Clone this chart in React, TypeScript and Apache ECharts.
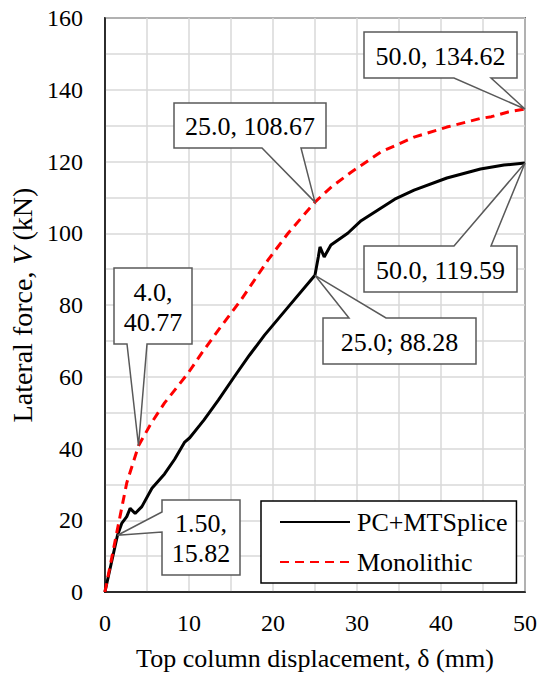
import React, { useEffect, useRef } from "react";
import * as echarts from "echarts";

// ---- data ----
const pcX = [0, 1.5, 2.0, 2.6, 3.0, 3.6, 4.4, 5.6, 7.1, 8.3, 9.5, 10.1, 11.3, 11.8, 13.5, 15.4, 17.2, 19.0, 21.8, 25.0, 25.4, 25.6, 26.1, 26.9, 28.9, 30.5, 32.5, 34.5, 36.8, 40.7, 44.7, 47.5, 50.0];
const pcY = [0, 15.82, 19.1, 21.0, 23.3, 21.9, 23.8, 28.9, 32.9, 37.0, 41.8, 43.0, 46.5, 48.0, 53.5, 60.0, 66.0, 71.6, 79.4, 88.28, 93.4, 96.2, 93.4, 96.7, 100.0, 103.5, 106.5, 109.5, 112.0, 115.4, 117.9, 119.0, 119.59];

const monoX = [0, 1.4, 2.6, 4.0, 5.5, 7.1, 9.9, 11.5, 13.5, 16.2, 19.4, 21.8, 25.0, 27.0, 29.3, 32.8, 36.8, 40.7, 44.7, 46.0, 48.0, 50.0];
const monoY = [0, 16.4, 30.4, 40.77, 47.0, 52.7, 61.0, 66.5, 73.0, 81.4, 92.5, 100.0, 108.67, 113.0, 117.0, 122.6, 126.8, 129.6, 132.0, 132.5, 133.8, 134.62];

const seriesNames = ["PC+MTSplice", "Monolithic"];

// callout anchor values and texts
const calloutX = [1.5, 4.0, 25.0, 25.0, 50.0, 50.0];
const calloutY = [15.82, 40.77, 88.28, 108.67, 119.59, 134.62];
const calloutText = ["1.50,\n15.82", "4.0,\n40.77", "25.0; 88.28", "25.0, 108.67", "50.0, 119.59", "50.0, 134.62"];

// x ticks / y ticks
const xMin = 0, xMax = 50, xStep = 5, xLabelStep = 10;
const yMin = 0, yMax = 160, yStep = 10, yLabelStep = 20;

// ---- layout of callout boxes (pixels): left, top, right, bottom, pointer side, base start, base end ----
const calloutLayout: Array<{ box: number[]; side: string; base: number[] }> = [
  { box: [162, 500, 240, 575], side: "left", base: [512, 532] },
  { box: [114, 268, 192, 344], side: "bottom", base: [127, 147] },
  { box: [323, 318, 476, 364], side: "top", base: [349, 386] },
  { box: [174, 103, 326, 148], side: "bottom", base: [262, 301] },
  { box: [364, 246, 517, 292], side: "top", base: [454, 491] },
  { box: [364, 32, 517, 78], side: "bottom", base: [454, 491] },
];

const FONT = "Liberation Serif";

function buildCallouts(chart: echarts.ECharts) {
  const els: any[] = [];
  calloutLayout.forEach((c, i) => {
    const p = chart.convertToPixel({ gridIndex: 0 }, [calloutX[i], calloutY[i]]) as number[];
    const [L, T, R, B] = c.box;
    let pts: number[][];
    if (c.side === "bottom") {
      pts = [[L, T], [R, T], [R, B], [c.base[1], B], p, [c.base[0], B], [L, B]];
    } else if (c.side === "top") {
      pts = [[L, T], [c.base[0], T], p, [c.base[1], T], [R, T], [R, B], [L, B]];
    } else {
      pts = [[L, T], [R, T], [R, B], [L, B], [L, c.base[1]], p, [L, c.base[0]]];
    }
    els.push({
      type: "polygon",
      shape: { points: pts },
      style: { fill: "#ffffff", stroke: "#595959", lineWidth: 1.5 },
      z: 100,
    });
    els.push({
      type: "text",
      x: (L + R) / 2,
      y: (T + B) / 2 + 1,
      style: {
        text: calloutText[i],
        fill: "#000000",
        fontSize: 26,
        fontFamily: FONT,
        align: "center",
        verticalAlign: "middle",
        lineHeight: 30,
      },
      z: 101,
    });
  });
  return els;
}

export default function App() {
  const ref = useRef<HTMLDivElement>(null);
  useEffect(() => {
    if (!ref.current) return;
    const chart = echarts.init(ref.current, undefined, { renderer: "svg" });
    const pc = pcX.map((x, i) => [x, pcY[i]]);
    const mono = monoX.map((x, i) => [x, monoY[i]]);
    chart.setOption({
      animation: false,
      backgroundColor: "#ffffff",
      textStyle: { fontFamily: FONT },
      grid: {
        left: 103, top: 18, right: 18, bottom: 85,
        show: true, borderColor: "#000000", borderWidth: 1.5, backgroundColor: "transparent",
      },
      xAxis: {
        type: "value", min: xMin, max: xMax, interval: xStep,
        name: "Top column displacement, δ (mm)",
        nameLocation: "middle", nameGap: 53,
        nameTextStyle: { fontSize: 26, color: "#000", fontFamily: FONT },
        axisLine: { show: true, lineStyle: { color: "#000", width: 1.5 } },
        axisTick: { show: false },
        axisLabel: {
          fontSize: 24, color: "#000", fontFamily: FONT, margin: 19,
          formatter: (v: number) => (v % xLabelStep === 0 ? String(v) : ""),
        },
        splitLine: { show: true, lineStyle: { color: "#d9d9d9", width: 1.5 } },
      },
      yAxis: {
        type: "value", min: yMin, max: yMax, interval: yStep,
        name: "Lateral force, {i|V} (kN)",
        nameLocation: "middle", nameGap: 66, nameRotate: 90,
        nameTextStyle: {
          fontSize: 28, color: "#000", fontFamily: FONT,
          rich: { i: { fontStyle: "italic", fontSize: 28, fontFamily: FONT, color: "#000" } },
        },
        axisLine: { show: true, lineStyle: { color: "#000", width: 1.5 } },
        axisTick: { show: false },
        axisLabel: {
          fontSize: 24, color: "#000", fontFamily: FONT, margin: 22,
          formatter: (v: number) => (v % yLabelStep === 0 ? String(v) : ""),
        },
        splitLine: { show: true, lineStyle: { color: "#d9d9d9", width: 1.5 } },
      },
      legend: {
        orient: "vertical",
        left: 261, top: 501,
        padding: [6, 9, 6, 18],
        itemGap: 10,
        itemWidth: 70,
        itemHeight: 14,
        backgroundColor: "#ffffff",
        borderColor: "#000000",
        borderWidth: 1.5,
        borderRadius: 0,
        itemStyle: { color: "rgba(0,0,0,0)", borderWidth: 0, opacity: 0 },
        textStyle: { fontSize: 26, color: "#000", fontFamily: FONT, lineHeight: 30, padding: [0, 0, 0, 2] },
        data: seriesNames,
        z: 50,
      },
      series: [
        {
          name: seriesNames[0], type: "line", data: pc, symbol: "none",
          lineStyle: { color: "#000000", width: 3 }, itemStyle: { color: "#000000" }, z: 3,
        },
        {
          name: seriesNames[1], type: "line", data: mono, symbol: "none",
          lineStyle: { color: "#ff0000", width: 3, type: [9, 6] }, itemStyle: { color: "#ff0000" }, z: 4,
        },
      ],
    });
    chart.setOption({ graphic: buildCallouts(chart) });
    return () => chart.dispose();
  }, []);
  return <div ref={ref} style={{ width: 543, height: 677, position: "absolute", left: 0, top: 0 }} />;
}
